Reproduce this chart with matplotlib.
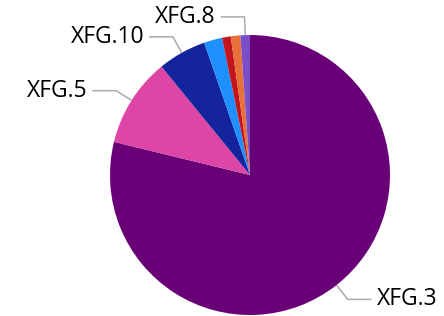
import numpy as np
import matplotlib.pyplot as plt

# slice data, clockwise from 12 o'clock
names = ['XFG.3', 'XFG.5', 'XFG.10', 'XFG.x1', 'XFG.x2', 'XFG.x3', 'XFG.8']
shares = [78.8, 10.3, 5.6, 2.1, 1.0, 1.1, 1.1]
shown = ['XFG.3', 'XFG.5', 'XFG.10', 'XFG.8']
colors = ['#6a0078', '#dd45a6', '#13249c', '#1e90ff', '#c4151f', '#e8703a', '#7b4fc8']

plt.rcParams['font.family'] = ['Open Sans', 'DejaVu Sans']

fig = plt.figure(figsize=(4.44, 3.16), dpi=100)
ax = fig.add_axes([0, 0, 1, 1])
wedges, _ = ax.pie(shares, colors=colors, startangle=90, counterclock=False,
                   radius=1.0, center=(0, 0), wedgeprops=dict(linewidth=0))

for w, name in zip(wedges, names):
    if name not in shown:
        continue
    mid = np.deg2rad((w.theta1 + w.theta2) / 2)
    dx, dy = np.cos(mid), np.sin(mid)
    side = 1 if dx >= 0 else -1
    x0, y0 = 1.0 * dx, 1.0 * dy
    x1, y1 = 1.13 * dx, 1.13 * dy
    x2 = x1 + side * 0.17
    ax.plot([x0, x1, x2], [y0, y1, y1], color='#aaaaaa', lw=1.1,
            solid_capstyle='butt')
    ax.text(x2 + side * 0.035, y1, name, ha='left' if side > 0 else 'right',
            va='center', fontsize=16.5, color='#000000')

ax.set_xlim(-250 / 140, 194 / 140)
ax.set_ylim(-141 / 140, 175 / 140)
ax.set_aspect('equal')
ax.axis('off')

fig.savefig('out.png', dpi=100)
